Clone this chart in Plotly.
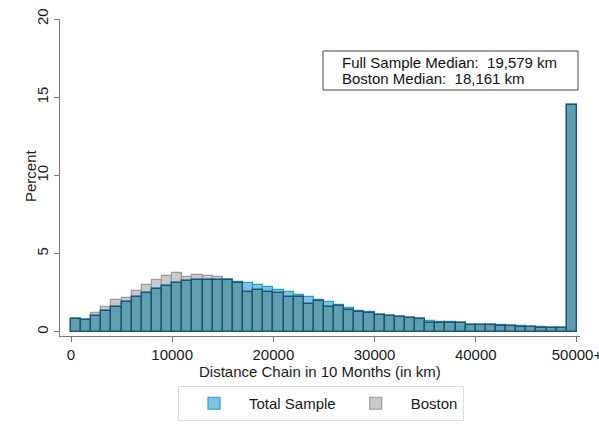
import plotly.graph_objects as go

bin_width = 1000
bin_starts = list(range(0, 50000, 1000))
total_sample = [0.80, 0.78, 1.00, 1.35, 1.62, 1.92, 2.26, 2.52, 2.74, 2.95,
                3.12, 3.27, 3.33, 3.35, 3.33, 3.29, 3.22, 3.12, 3.01, 2.87,
                2.69, 2.56, 2.39, 2.22, 2.05, 1.94, 1.75, 1.50, 1.35, 1.25,
                1.10, 1.03, 0.96, 0.92, 0.85, 0.70, 0.66, 0.64, 0.60, 0.47,
                0.46, 0.45, 0.42, 0.40, 0.35, 0.33, 0.30, 0.27, 0.25, 14.5]
boston = [0.80, 0.78, 1.20, 1.60, 2.07, 2.18, 2.60, 2.99, 3.33, 3.59,
          3.75, 3.48, 3.61, 3.57, 3.48, 3.30, 3.12, 2.56, 2.69, 2.56,
          2.46, 2.24, 2.24, 1.81, 2.00, 1.62, 1.65, 1.39, 1.25, 1.18,
          1.08, 1.00, 0.93, 0.90, 0.80, 0.56, 0.60, 0.60, 0.55, 0.45,
          0.44, 0.42, 0.40, 0.38, 0.30, 0.30, 0.28, 0.25, 0.23, 14.5]
overlap = [min(a, b) for a, b in zip(total_sample, boston)]
centers = [s + bin_width / 2 for s in bin_starts]

x_tickvals = [0, 10000, 20000, 30000, 40000, 50000]
x_ticktext = ["0", "10000", "20000", "30000", "40000", "50000+"]
y_tickvals = [0, 5, 10, 15, 20]
x_title = "Distance Chain in 10 Months (in km)"
y_title = "Percent"
median_lines = ["Full Sample Median:\u00a0\u00a019,579 km", "Boston Median:\u00a0\u00a018,161 km"]

FONT = "Liberation Sans, Arial, sans-serif"
FS = 15

# plot-area geometry (pixels)
L, R, T, B = 60, 580, 19, 336
W, H = R - L, B - T


def px(x):
    return (x - L) / W


def py(y):
    return (B - y) / H


fig = go.Figure()
fig.add_trace(go.Bar(x=centers, y=boston, width=bin_width, name="Boston",
                     marker=dict(color="#c9c9c9", line=dict(color="#9a9a9a", width=1.2)),
                     legendrank=2))
fig.add_trace(go.Bar(x=centers, y=total_sample, width=bin_width, name="Total Sample",
                     marker=dict(color="#7cc4e2", line=dict(color="#2c9bd0", width=1.2)),
                     legendrank=1))
fig.add_trace(go.Bar(x=centers, y=overlap, width=bin_width, name="overlap",
                     showlegend=False, hoverinfo="skip",
                     marker=dict(color="#5f9fb1", line=dict(color="#1b5570", width=1.4))))

fig.update_layout(
    width=599, height=433,
    margin=dict(l=L, r=599 - R, t=T, b=433 - B, autoexpand=False),
    barmode="overlay", bargap=0,
    plot_bgcolor="white", paper_bgcolor="white",
    font=dict(family=FONT, size=FS, color="#1a1a1a"),
    showlegend=True,
    legend=dict(orientation="h", x=px(321), xanchor="center", y=py(386), yanchor="top",
                bordercolor="#dcdcdc", borderwidth=1, bgcolor="white",
                font=dict(size=FS), itemwidth=60, traceorder="normal"),
)
fig.update_xaxes(range=[-1087, 50300], tickvals=x_tickvals, ticktext=x_ticktext,
                 automargin=False, ticklabeloverflow="allow",
                 showgrid=False, zeroline=False, showline=True, linecolor="#777",
                 linewidth=1, ticks="outside", ticklen=5, tickcolor="#777",
                 tickfont=dict(size=FS))
fig.update_yaxes(range=[-0.26, 20], tickvals=y_tickvals, tickangle=-90,
                 automargin=False, ticklabeloverflow="allow",
                 showgrid=False, zeroline=False, showline=True, linecolor="#777",
                 linewidth=1, ticks="outside", ticklen=5, tickcolor="#777",
                 tickfont=dict(size=FS))

# axis titles
fig.add_annotation(xref="paper", yref="paper", x=px(320), y=py(371), xanchor="center",
                   yanchor="middle", text=x_title, showarrow=False, font=dict(size=FS))
fig.add_annotation(xref="paper", yref="paper", x=px(30), y=py(176), xanchor="center",
                   yanchor="middle", text=y_title, textangle=-90, showarrow=False,
                   font=dict(size=FS))

# Median annotation box
fig.add_shape(type="rect", xref="paper", yref="paper",
              x0=px(323), x1=px(578), y0=py(90), y1=py(51),
              line=dict(color="#444", width=1), fillcolor="white", layer="above")
for i, line in enumerate(median_lines):
    fig.add_annotation(xref="paper", yref="paper", x=px(340),
                       y=py(62 + 16.5 * i), xanchor="left", yanchor="middle",
                       text=line, showarrow=False, font=dict(size=FS, color="#111"))

fig.write_html("out.html", config={"displayModeBar": False},
               post_script="document.body.style.margin='0';document.body.style.padding='0';")
